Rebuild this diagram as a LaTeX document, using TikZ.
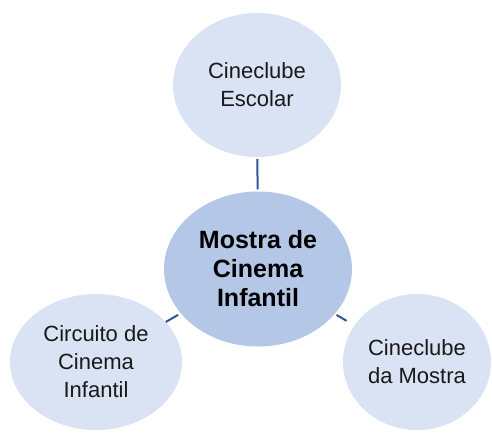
\documentclass[tikz,border=0pt]{standalone}
\usepackage{fontspec}
\setmainfont{Liberation Sans}
\usepackage{tikz}
\usetikzlibrary{shapes.geometric}
\usepackage{xcolor}
\definecolor{hubfill}{HTML}{B4C7E7}
\definecolor{leaffill}{HTML}{DAE3F3}
\definecolor{linkblue}{HTML}{2F5597}
\tikzset{
    hub/.style={ellipse, fill=hubfill, inner sep=0pt, align=center,
        font=\fontsize{25}{29}\selectfont\bfseries},
    leaf/.style={ellipse, fill=leaffill, inner sep=0pt, align=center,
        text=black!90, font=\fontsize{22}{28}\selectfont},
    link/.style={draw=linkblue, line width=2pt}
}

\begin{document}
\begin{tikzpicture}[x=1pt, y=-1pt]
        \useasboundingbox (0, 0) rectangle (492, 432);
        % Circles
        \node [hub, minimum width=188, minimum height=155] (mostra) at (258, 269) {Mostra de\\Cinema\\Infantil};
        \node [leaf, minimum width=168, minimum height=144] (escolar) at (257, 85) {Cineclube\\Escolar};
        \node [leaf, minimum width=172, minimum height=136] (circuito) at (96, 362) {Circuito de\\Cinema\\Infantil};
        \node [leaf, minimum width=148, minimum height=136] (damostra) at (417, 362) {Cineclube\\da Mostra};
        % Links
        \draw [link, shorten <=2pt, shorten >=2pt] (mostra) -- (escolar);
        \draw [link, shorten <=3pt] (mostra) -- (circuito);
        \draw [link, shorten <=2pt, shorten >=9pt] (mostra) -- (damostra);
    \end{tikzpicture}
\end{document}
